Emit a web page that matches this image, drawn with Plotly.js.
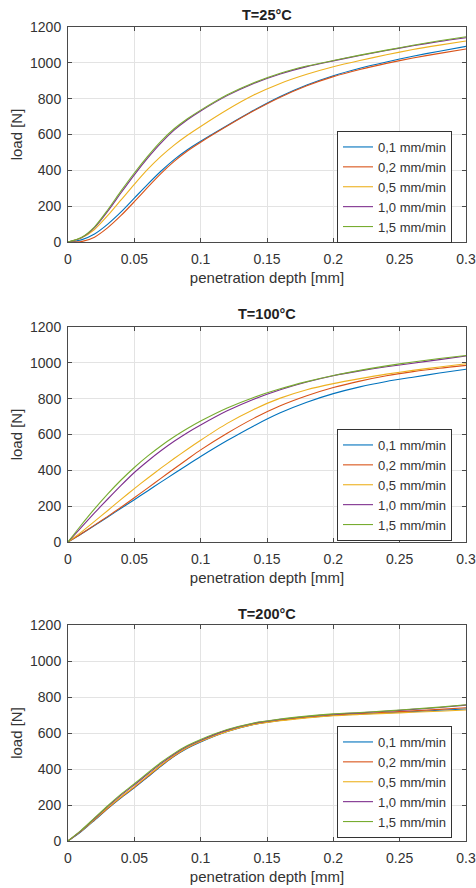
<!DOCTYPE html>
<html>
<head>
<meta charset="utf-8">
<script src="https://cdn.plot.ly/plotly-3.0.1.min.js"></script>
<style>html,body{margin:0;padding:0;background:#fff;}#chart{width:476px;height:888px;}</style>
</head>
<body>
<div id="chart"></div>
<script>
// ---- data ----
var depth = [0,0.01,0.02,0.03,0.04,0.05,0.06,0.07,0.08,0.09,0.10,0.12,0.14,0.16,0.18,0.20,0.22,0.24,0.26,0.28,0.30];
var seriesNames = ["0,1 mm/min","0,2 mm/min","0,5 mm/min","1,0 mm/min","1,5 mm/min"];
var panelTitles = ["T=25°C","T=100°C","T=200°C"];
var xTickVals = [0,0.05,0.1,0.15,0.2,0.25,0.3];
var xTickText = ["0","0.05","0.1","0.15","0.2","0.25","0.3"];
var yTickVals = [0,200,400,600,800,1000,1200];

// T = 25 °C
var load25_01 = [0,12,45,100,168,245,322,395,460,515,562,650,735,812,876,928,970,1005,1037,1065,1092];
var load25_02 = [0,2,27,80,148,225,305,382,450,508,557,647,732,808,872,923,963,997,1027,1053,1077];
var load25_05 = [0,22,70,148,235,322,405,478,541,596,645,738,820,885,936,978,1013,1045,1074,1099,1122];
var load25_10 = [0,23,80,172,275,375,468,552,624,682,731,817,885,938,979,1011,1041,1069,1095,1119,1140];
var load25_15 = [0,25,85,180,285,385,478,562,632,688,736,822,889,942,982,1013,1043,1071,1098,1123,1146];

// T = 100 °C
var load100_01 = [0,45,92,140,188,236,285,334,382,430,477,566,648,721,780,828,866,896,920,943,964];
var load100_02 = [0,46,94,143,194,247,301,355,409,462,514,607,690,760,816,862,898,928,951,970,986];
var load100_05 = [0,55,115,176,238,298,356,412,466,518,568,662,740,803,850,884,912,937,958,977,995];
var load100_10 = [0,82,162,240,316,388,451,509,562,610,653,732,797,850,893,928,955,978,998,1018,1038];
var load100_15 = [0,95,185,269,346,416,479,536,587,633,675,748,807,855,895,929,958,983,1005,1024,1041];

// T = 200 °C
var load200_01 = [0,52,115,180,240,295,355,415,470,515,550,608,648,670,686,698,705,712,719,726,733];
var load200_02 = [0,55,118,182,242,298,358,418,472,518,553,610,649,671,687,699,707,715,723,731,740];
var load200_05 = [0,56,120,185,246,302,362,421,475,520,554,609,647,668,684,696,703,709,715,721,728];
var load200_10 = [0,58,125,192,255,312,372,430,482,526,560,616,654,676,692,704,712,721,731,742,755];
var load200_15 = [0,60,128,196,260,318,378,436,487,530,564,619,656,678,694,706,714,723,733,744,757];

var panels = [
  [load25_01, load25_02, load25_05, load25_10, load25_15],
  [load100_01, load100_02, load100_05, load100_10, load100_15],
  [load200_01, load200_02, load200_05, load200_10, load200_15]
];

// ---- styling ----
var colors = ["#0072BD","#D95319","#EDB120","#7E2F8E","#77AC30"];
var W = 476, H = 888;
var FONT = "Liberation Sans, Arial, sans-serif";
var plotLeft = 68, plotRight = 466;
var plotTops = [27, 327, 625];
var plotBottoms = [242, 542, 841];
var legendTops = [131, 429, 726];
var titleYs = [15, 314, 614];

var traces = [];
var layout = {
  width: W, height: H,
  margin: {l:0, r:0, t:0, b:0},
  paper_bgcolor: "#fff", plot_bgcolor: "#fff",
  font: {family: FONT, color: "#333", size: 14},
  showlegend: true,
  annotations: []
};

for (var p = 0; p < 3; p++) {
  var sfx = p === 0 ? "" : String(p + 1);
  var legName = "legend" + sfx;
  for (var s = 0; s < 5; s++) {
    traces.push({
      x: depth, y: panels[p][s], type: "scatter", mode: "lines",
      name: seriesNames[s],
      line: {color: colors[s], width: 1.1, shape: "spline", smoothing: 0.7},
      xaxis: "x" + sfx, yaxis: "y" + sfx,
      legend: legName
    });
  }
  var common = {
    showline: true, mirror: "ticks", linecolor: "#4a4a4a", linewidth: 1,
    ticks: "inside", ticklen: 4, tickcolor: "#4a4a4a", tickwidth: 1,
    showgrid: true, gridcolor: "#e3e3e3", gridwidth: 1,
    zeroline: false, tickfont: {family: FONT, size: 14, color: "#333"}
  };
  layout["xaxis" + sfx] = Object.assign({}, common, {
    domain: [plotLeft / W, plotRight / W],
    anchor: "y" + sfx,
    range: [0, 0.3], tickmode: "array", tickvals: xTickVals, ticktext: xTickText,
    ticklabelstandoff: 4,
    title: {text: "penetration depth [mm]", font: {family: FONT, size: 15, color: "#333"}, standoff: 6}
  });
  layout["yaxis" + sfx] = Object.assign({}, common, {
    domain: [1 - plotBottoms[p] / H, 1 - plotTops[p] / H],
    anchor: "x" + sfx,
    range: [0, 1200], tickmode: "array", tickvals: yTickVals,
    ticklabelstandoff: 3,
    title: {text: "load [N]", font: {family: FONT, size: 15, color: "#333"}, standoff: 3}
  });
  layout[legName] = {
    x: 452 / W, xanchor: "right",
    y: 1 - legendTops[p] / H, yanchor: "top",
    bgcolor: "#fff", bordercolor: "#333", borderwidth: 1,
    font: {family: FONT, size: 13, color: "#333"},
    itemwidth: 30, tracegroupgap: 0
  };
  layout.annotations.push({
    text: "<b>" + panelTitles[p] + "</b>", xref: "paper", yref: "paper",
    x: (plotLeft + plotRight) / 2 / W, y: 1 - titleYs[p] / H,
    xanchor: "center", yanchor: "middle", showarrow: false,
    font: {family: FONT, size: 14.5, color: "#222"}
  });
}

Plotly.newPlot("chart", traces, layout, {displayModeBar: false, staticPlot: true});
</script>
</body>
</html>
